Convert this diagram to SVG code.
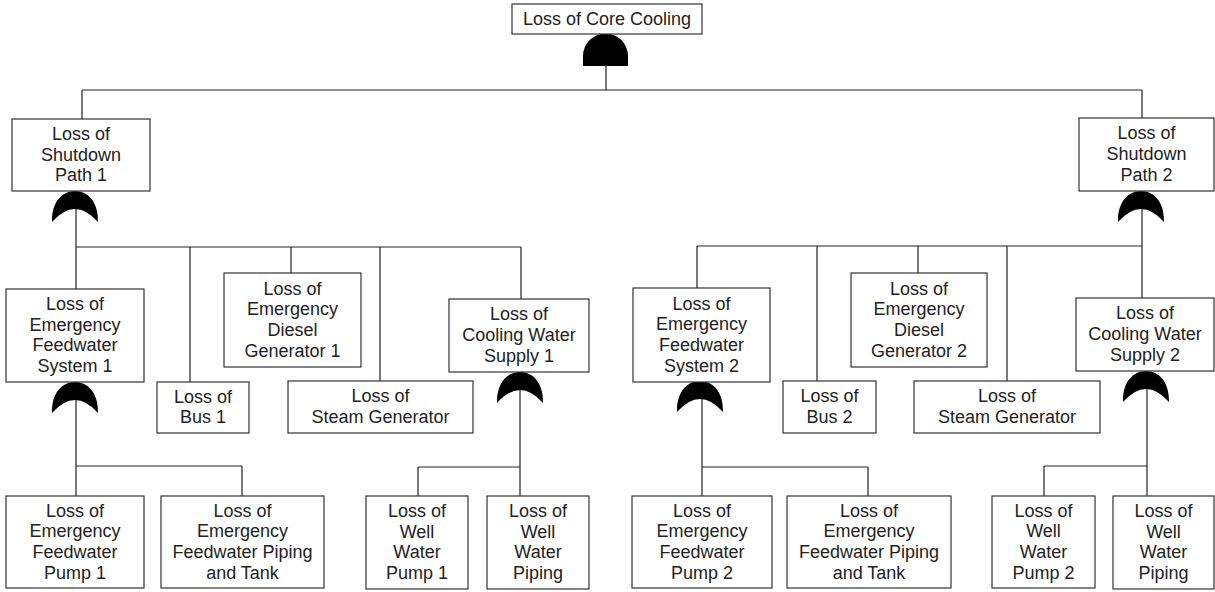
<svg xmlns="http://www.w3.org/2000/svg" width="1215" height="592" viewBox="0 0 1215 592">
<defs>
<style>
.box{fill:#fff;stroke:#333;stroke-width:1.2}
.lbl{font-family:"Liberation Sans",Arial,sans-serif;font-size:18px;fill:#222;text-anchor:middle}
.conn line{stroke:#222;stroke-width:1.2}
.gate{fill:#000}
</style>
<path id="or" d="M-23,31 C-23.5,11 -13,0 0,0 C13,0 23.5,11 23,31 Q0,5 -23,31 Z"/>
</defs>
<rect width="1215" height="592" fill="#fff"/>
<g id="connectors" class="conn">
<line x1="606" y1="60" x2="606" y2="90"/>
<line x1="82" y1="90" x2="1142" y2="90"/>
<line x1="82" y1="90" x2="82" y2="119"/>
<line x1="1142" y1="90" x2="1142" y2="118"/>
<line x1="76" y1="205" x2="76" y2="289"/>
<line x1="76" y1="247" x2="521" y2="247"/>
<line x1="190" y1="247" x2="190" y2="382"/>
<line x1="291" y1="247" x2="291" y2="273"/>
<line x1="380" y1="247" x2="380" y2="381"/>
<line x1="521" y1="247" x2="521" y2="299"/>
<line x1="1142" y1="205" x2="1142" y2="298"/>
<line x1="697" y1="246" x2="1142" y2="246"/>
<line x1="697" y1="246" x2="697" y2="288"/>
<line x1="817" y1="246" x2="817" y2="381"/>
<line x1="918" y1="246" x2="918" y2="273"/>
<line x1="1007" y1="246" x2="1007" y2="381"/>
<line x1="76" y1="400" x2="76" y2="496"/>
<line x1="76" y1="466" x2="242" y2="466"/>
<line x1="242" y1="466" x2="242" y2="496"/>
<line x1="520" y1="390" x2="520" y2="496"/>
<line x1="418" y1="467" x2="520" y2="467"/>
<line x1="418" y1="467" x2="418" y2="496"/>
<line x1="702" y1="398" x2="702" y2="496"/>
<line x1="702" y1="467" x2="868" y2="467"/>
<line x1="868" y1="467" x2="868" y2="496"/>
<line x1="1147" y1="389" x2="1147" y2="496"/>
<line x1="1044" y1="466" x2="1147" y2="466"/>
<line x1="1044" y1="466" x2="1044" y2="496"/>
</g>
<g id="gates" class="gate">
<path id="gate-and-top" d="M583,66 V56 A22.5,22.5 0 0 1 628,56 V66 Z"/>
<use id="gate-sp1" href="#or" transform="translate(75,191)"/>
<use id="gate-sp2" href="#or" transform="translate(1141,191)"/>
<use id="gate-efs1" href="#or" transform="translate(75,382)"/>
<use id="gate-cws1" href="#or" transform="translate(520,372)"/>
<use id="gate-efs2" href="#or" transform="translate(700,381)"/>
<use id="gate-cws2" href="#or" transform="translate(1146,371)"/>
</g>
<g id="n-top"><rect class="box" x="512" y="4" width="190" height="30"/><text class="lbl" x="607" y="25">Loss of Core Cooling</text></g>
<g id="n-sp1"><rect class="box" x="12" y="119" width="138" height="72"/><text class="lbl" x="81"><tspan x="81" y="139.8">Loss of</tspan><tspan x="81" y="160.5">Shutdown</tspan><tspan x="81" y="181.2">Path 1</tspan></text></g>
<g id="n-sp2"><rect class="box" x="1079" y="118" width="135" height="73"/><text class="lbl"><tspan x="1146.5" y="139.3">Loss of</tspan><tspan x="1146.5" y="160">Shutdown</tspan><tspan x="1146.5" y="180.7">Path 2</tspan></text></g>
<g id="n-efs1"><rect class="box" x="6" y="289" width="138" height="93"/><text class="lbl"><tspan x="75" y="310">Loss of</tspan><tspan x="75" y="330.7">Emergency</tspan><tspan x="75" y="351.4">Feedwater</tspan><tspan x="75" y="372.1">System 1</tspan></text></g>
<g id="n-bus1"><rect class="box" x="157" y="382" width="92" height="51"/><text class="lbl"><tspan x="203" y="402.7">Loss of</tspan><tspan x="203" y="423.4">Bus 1</tspan></text></g>
<g id="n-edg1"><rect class="box" x="224" y="273" width="137" height="94"/><text class="lbl"><tspan x="292.5" y="294.5">Loss of</tspan><tspan x="292.5" y="315.2">Emergency</tspan><tspan x="292.5" y="335.9">Diesel</tspan><tspan x="292.5" y="356.6">Generator 1</tspan></text></g>
<g id="n-sg1"><rect class="box" x="288" y="381" width="185" height="52"/><text class="lbl"><tspan x="380.5" y="402.2">Loss of</tspan><tspan x="380.5" y="422.9">Steam Generator</tspan></text></g>
<g id="n-cws1"><rect class="box" x="449" y="299" width="140" height="73"/><text class="lbl"><tspan x="519" y="320.3">Loss of</tspan><tspan x="519" y="341">Cooling Water</tspan><tspan x="519" y="361.7">Supply 1</tspan></text></g>
<g id="n-efp1"><rect class="box" x="6" y="496" width="138" height="92"/><text class="lbl"><tspan x="75" y="516.5">Loss of</tspan><tspan x="75" y="537.2">Emergency</tspan><tspan x="75" y="557.9">Feedwater</tspan><tspan x="75" y="578.6">Pump 1</tspan></text></g>
<g id="n-efpt1"><rect class="box" x="161" y="496" width="163" height="92"/><text class="lbl"><tspan x="242.5" y="516.5">Loss of</tspan><tspan x="242.5" y="537.2">Emergency</tspan><tspan x="242.5" y="557.9">Feedwater Piping</tspan><tspan x="242.5" y="578.6">and Tank</tspan></text></g>
<g id="n-wwp1"><rect class="box" x="366" y="496" width="102" height="93"/><text class="lbl"><tspan x="417" y="517">Loss of</tspan><tspan x="417" y="537.7">Well</tspan><tspan x="417" y="558.4">Water</tspan><tspan x="417" y="579.1">Pump 1</tspan></text></g>
<g id="n-wwpi1"><rect class="box" x="487" y="496" width="102" height="93"/><text class="lbl"><tspan x="538" y="517">Loss of</tspan><tspan x="538" y="537.7">Well</tspan><tspan x="538" y="558.4">Water</tspan><tspan x="538" y="579.1">Piping</tspan></text></g>
<g id="n-efs2"><rect class="box" x="633" y="288" width="137" height="94"/><text class="lbl"><tspan x="701.5" y="309.5">Loss of</tspan><tspan x="701.5" y="330.2">Emergency</tspan><tspan x="701.5" y="350.9">Feedwater</tspan><tspan x="701.5" y="371.6">System 2</tspan></text></g>
<g id="n-bus2"><rect class="box" x="783" y="381" width="93" height="52"/><text class="lbl"><tspan x="829.5" y="402.2">Loss of</tspan><tspan x="829.5" y="422.9">Bus 2</tspan></text></g>
<g id="n-edg2"><rect class="box" x="851" y="273" width="136" height="94"/><text class="lbl"><tspan x="919" y="294.5">Loss of</tspan><tspan x="919" y="315.2">Emergency</tspan><tspan x="919" y="335.9">Diesel</tspan><tspan x="919" y="356.6">Generator 2</tspan></text></g>
<g id="n-sg2"><rect class="box" x="914" y="381" width="186" height="52"/><text class="lbl"><tspan x="1007" y="402.2">Loss of</tspan><tspan x="1007" y="422.9">Steam Generator</tspan></text></g>
<g id="n-cws2"><rect class="box" x="1076" y="298" width="138" height="73"/><text class="lbl"><tspan x="1145" y="319.3">Loss of</tspan><tspan x="1145" y="340">Cooling Water</tspan><tspan x="1145" y="360.7">Supply 2</tspan></text></g>
<g id="n-efp2"><rect class="box" x="632" y="496" width="140" height="92"/><text class="lbl"><tspan x="702" y="516.5">Loss of</tspan><tspan x="702" y="537.2">Emergency</tspan><tspan x="702" y="557.9">Feedwater</tspan><tspan x="702" y="578.6">Pump 2</tspan></text></g>
<g id="n-efpt2"><rect class="box" x="787" y="496" width="164" height="92"/><text class="lbl"><tspan x="869" y="516.5">Loss of</tspan><tspan x="869" y="537.2">Emergency</tspan><tspan x="869" y="557.9">Feedwater Piping</tspan><tspan x="869" y="578.6">and Tank</tspan></text></g>
<g id="n-wwp2"><rect class="box" x="992" y="496" width="103" height="92"/><text class="lbl"><tspan x="1043.5" y="516.5">Loss of</tspan><tspan x="1043.5" y="537.2">Well</tspan><tspan x="1043.5" y="557.9">Water</tspan><tspan x="1043.5" y="578.6">Pump 2</tspan></text></g>
<g id="n-wwpi2"><rect class="box" x="1113" y="496" width="101" height="93"/><text class="lbl"><tspan x="1163.5" y="517">Loss of</tspan><tspan x="1163.5" y="537.7">Well</tspan><tspan x="1163.5" y="558.4">Water</tspan><tspan x="1163.5" y="579.1">Piping</tspan></text></g>
</svg>
